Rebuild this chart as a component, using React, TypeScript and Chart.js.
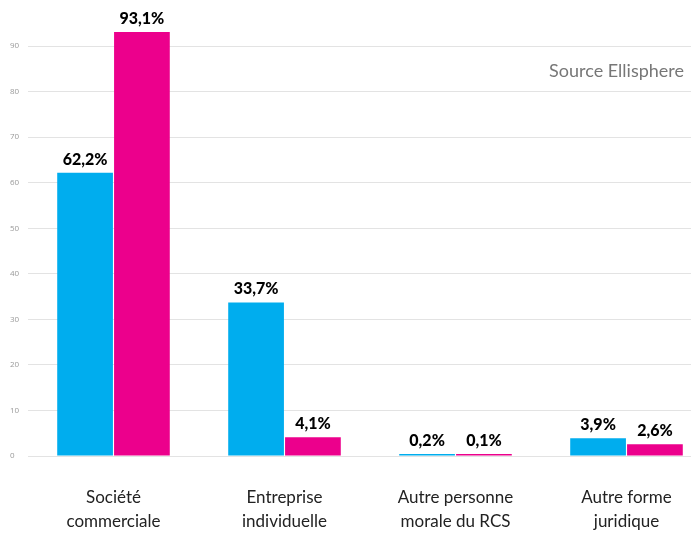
import React, { useEffect, useRef } from "react";
import { Chart, registerables } from "chart.js";

Chart.register(...registerables);

const categories: string[][] = [
  ["Société", "commerciale"],
  ["Entreprise", "individuelle"],
  ["Autre personne", "morale du RCS"],
  ["Autre forme", "juridique"],
];
const seriesBlue: number[] = [62.2, 33.7, 0.2, 3.9];
const seriesPink: number[] = [93.1, 4.1, 0.1, 2.6];
const yTicks: number[] = [0, 10, 20, 30, 40, 50, 60, 70, 80, 90];
const yMax = 97.3;
const sourceText = "Source Ellisphere";

const valueLabels = {
  id: "valueLabels",
  afterDatasetsDraw(chart: any) {
    const ctx = chart.ctx;
    ctx.save();
    ctx.font = "900 16px Lato";
    ctx.fillStyle = "#000";
    ctx.textAlign = "center";
    ctx.textBaseline = "alphabetic";
    chart.data.datasets.forEach((ds: any, i: number) => {
      const meta = chart.getDatasetMeta(i);
      meta.data.forEach((el: any, j: number) => {
        const v = ds.data[j] as number;
        const t = v.toFixed(1).replace(".", ",") + "%";
        ctx.fillText(t, el.x, el.y - 8);
      });
    });
    ctx.restore();
  },
};

const sourcePlugin = {
  id: "sourceText",
  afterDraw(chart: any) {
    const ctx = chart.ctx;
    ctx.save();
    ctx.font = "18px Lato";
    ctx.fillStyle = "#777";
    ctx.textAlign = "right";
    ctx.textBaseline = "middle";
    ctx.fillText(sourceText, 684, 71);
    ctx.restore();
  },
};

export default function App() {
  const ref = useRef<HTMLCanvasElement | null>(null);
  useEffect(() => {
    if (!ref.current) return;
    const chart = new Chart(ref.current, {
      type: "bar",
      data: {
        labels: categories,
        datasets: [
          {
            data: seriesBlue,
            backgroundColor: "#00ADEE",
            categoryPercentage: 0.665,
            barPercentage: 0.98,
            minBarLength: 2,
          },
          {
            data: seriesPink,
            backgroundColor: "#EC008C",
            categoryPercentage: 0.665,
            barPercentage: 0.98,
            minBarLength: 2,
          },
        ],
      },
      options: {
        responsive: false,
        animation: false,
        layout: { padding: { left: 10, top: 0, right: 0, bottom: 0 } },
        plugins: { legend: { display: false }, tooltip: { enabled: false } },
        scales: {
          x: {
            afterFit: (axis: any) => {
              axis.height = 77;
            },
            grid: { display: false, drawTicks: false },
            border: { display: false },
            ticks: {
              color: "#222",
              font: { family: "Lato", size: 17, lineHeight: 1.42 },
              padding: 29,
              maxRotation: 0,
              autoSkip: false,
            },
          },
          y: {
            min: 0,
            max: yMax,
            afterFit: (axis: any) => {
              axis.width = 18;
            },
            afterBuildTicks: (axis: any) => {
              axis.ticks = yTicks.map((v) => ({ value: v }));
            },
            grid: { color: "#e3e3e3", drawTicks: false },
            border: { display: false },
            ticks: {
              color: "#999",
              font: { family: "Open Sans", size: 8 },
              padding: 8,
              crossAlign: "far",
            },
          },
        },
      },
      plugins: [valueLabels, sourcePlugin],
    });
    return () => chart.destroy();
  }, []);
  return (
    <div
      style={{
        position: "fixed",
        left: 0,
        top: 0,
        width: 691,
        height: 533,
        overflow: "hidden",
        background: "#fff",
      }}
    >
      <canvas ref={ref} width={712} height={533} />
    </div>
  );
}
